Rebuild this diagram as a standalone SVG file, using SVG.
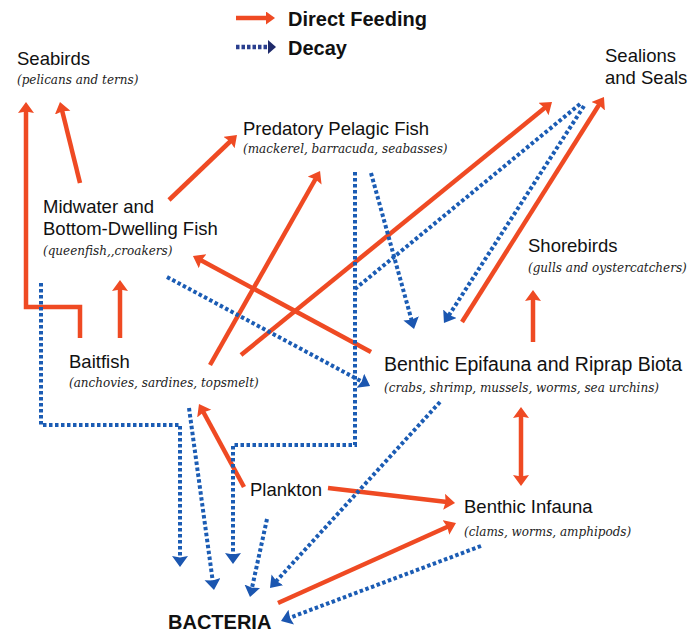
<svg xmlns="http://www.w3.org/2000/svg" width="689" height="635" viewBox="0 0 689 635">
<defs>
<marker id="ar" markerUnits="userSpaceOnUse" markerWidth="18" markerHeight="18" refX="3" refY="8" orient="auto-start-reverse" viewBox="0 0 18 18">
<path d="M0,0 L11,8 L0,16 L1.5,8 z" fill="#ef4a23"/>
</marker>
<marker id="arl" markerUnits="userSpaceOnUse" markerWidth="18" markerHeight="18" refX="1" refY="6.5" orient="auto" viewBox="0 0 18 18">
<path d="M0,0 L9,6.5 L0,13 z" fill="#ef4a23"/>
</marker>
<marker id="ab" markerUnits="userSpaceOnUse" markerWidth="18" markerHeight="18" refX="3" refY="8" orient="auto" viewBox="0 0 18 18">
<path d="M0,0 L11,8 L0,16 L1.5,8 z" fill="#1b56b0"/>
</marker>
<marker id="an" markerUnits="userSpaceOnUse" markerWidth="18" markerHeight="18" refX="0" refY="7" orient="auto" viewBox="0 0 18 18">
<path d="M0,0 L8,7 L0,14 z" fill="#1f2a6a"/>
</marker>
</defs>
<style>
.r{fill:none;stroke:#ef4a23;stroke-width:4.5;marker-end:url(#ar)}
.b{fill:none;stroke:#1b5cb4;stroke-width:4;stroke-dasharray:3.5 2.5;marker-end:url(#ab)}
.bn{fill:none;stroke:#1b5cb4;stroke-width:4;stroke-dasharray:3.5 2.5}
.t{font-family:"Liberation Sans",Arial,sans-serif;font-size:18.5px;fill:#111}
.s{font-family:"DejaVu Serif","Liberation Serif",serif;font-style:italic;font-size:12px;fill:#222}
.lg{font-family:"Liberation Sans",Arial,sans-serif;font-size:20px;font-weight:bold;fill:#111}
</style>
<rect width="689" height="635" fill="#fff"/>
<g id="legend">
<line x1="236" y1="18" x2="267" y2="18" stroke="#ef4a23" stroke-width="4.5" marker-end="url(#arl)"/>
<text class="lg" x="288" y="26">Direct Feeding</text>
<line x1="236" y1="47" x2="268" y2="47" stroke="#2a3f8f" stroke-width="4.5" stroke-dasharray="3.5 2" marker-end="url(#an)"/>
<text class="lg" x="288" y="55">Decay</text>
</g>
<g id="connectors">
<path class="r" d="M80,338 V307 H26 V110"/>
<line class="r" x1="80" y1="183" x2="61.9" y2="109.8"/>
<line class="r" x1="120" y1="338" x2="120" y2="288"/>
<line class="r" x1="169" y1="200" x2="231.2" y2="140.5"/>
<line class="r" x1="210" y1="365" x2="316.1" y2="178"/>
<line class="r" x1="241" y1="355" x2="545.8" y2="107.1"/>
<line class="r" x1="371" y1="352" x2="200" y2="259.8"/>
<line class="r" x1="462" y1="322" x2="599.7" y2="103.8"/>
<line class="r" x1="533" y1="342" x2="533" y2="298"/>
<line class="r" x1="521" y1="415" x2="521" y2="478" marker-start="url(#ar)"/>
<line class="r" x1="244" y1="487" x2="202.8" y2="411"/>
<line class="r" x1="328" y1="488" x2="447.1" y2="502.1"/>
<line class="r" x1="278" y1="603" x2="448.7" y2="526.3"/>
<path class="b" d="M41,283 V425 H180 V559"/>
<line class="b" x1="189" y1="408" x2="212.9" y2="582.1"/>
<path class="b" d="M355,172 V445 H233 V556"/>
<line class="bn" x1="580" y1="104" x2="355" y2="289"/>
<line class="b" x1="584" y1="106" x2="448.3" y2="316.3"/>
<line class="b" x1="371" y1="173" x2="411.9" y2="321.3"/>
<line class="b" x1="167" y1="277" x2="363" y2="382.2"/>
<line class="b" x1="440" y1="402" x2="275.4" y2="582.1"/>
<line class="b" x1="267" y1="519" x2="251.7" y2="589.2"/>
<line class="b" x1="481" y1="546" x2="288.5" y2="618.2"/>
</g>
<g id="seabirds">
<text class="t" x="17" y="65">Seabirds</text>
<text class="s" x="17" y="84">(pelicans and terns)</text>
</g>
<g id="sealions">
<text class="t" x="605" y="62">Sealions</text>
<text class="t" x="605" y="84">and Seals</text>
</g>
<g id="predatory">
<text class="t" x="243" y="135">Predatory Pelagic Fish</text>
<text class="s" x="243" y="153">(mackerel, barracuda, seabasses)</text>
</g>
<g id="midwater">
<text class="t" x="43" y="213">Midwater and</text>
<text class="t" x="43" y="235">Bottom-Dwelling Fish</text>
<text class="s" x="43" y="255">(queenfish,,croakers)</text>
</g>
<g id="shorebirds">
<text class="t" x="528" y="252">Shorebirds</text>
<text class="s" x="528" y="272">(gulls and oystercatchers)</text>
</g>
<g id="baitfish">
<text class="t" x="69" y="368">Baitfish</text>
<text class="s" x="69" y="387">(anchovies, sardines, topsmelt)</text>
</g>
<g id="epifauna">
<text class="t" x="384" y="371" style="font-size:19.5px">Benthic Epifauna and Riprap Biota</text>
<text class="s" x="384" y="392">(crabs, shrimp, mussels, worms, sea urchins)</text>
</g>
<g id="infauna">
<text class="t" x="464" y="513">Benthic Infauna</text>
<text class="s" x="464" y="536">(clams, worms, amphipods)</text>
</g>
<g id="plankton">
<text class="t" x="250" y="496">Plankton</text>
</g>
<g id="bacteria">
<text class="lg" x="168" y="629">BACTERIA</text>
</g>
</svg>
